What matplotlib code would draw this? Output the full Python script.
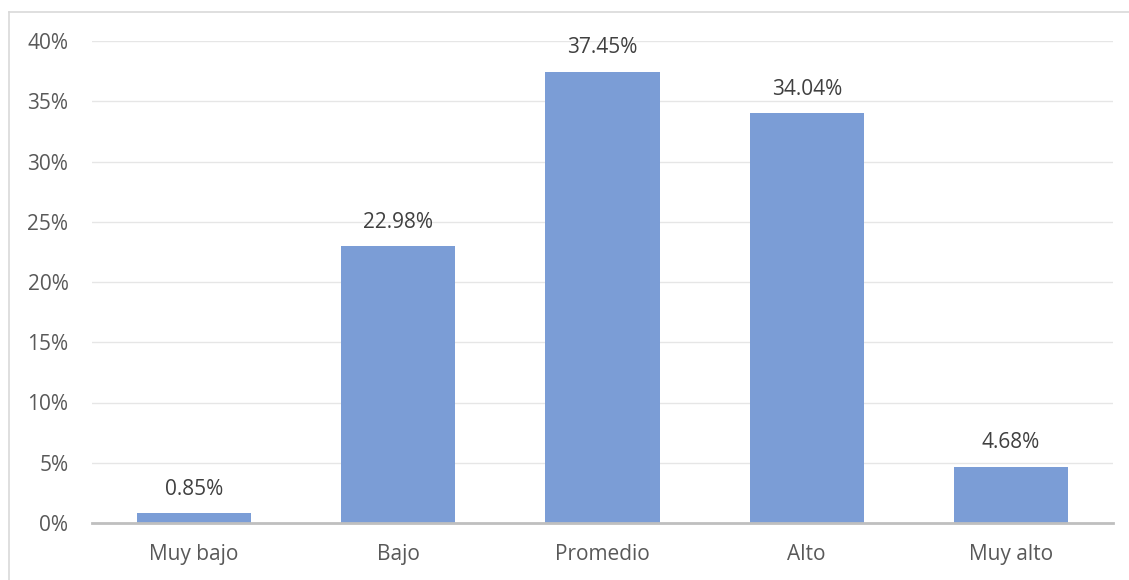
import matplotlib.pyplot as plt
from matplotlib.lines import Line2D

categorias = ['Muy bajo', 'Bajo', 'Promedio', 'Alto', 'Muy alto']
porcentajes = [0.85, 22.98, 37.45, 34.04, 4.68]
yticks = [0, 5, 10, 15, 20, 25, 30, 35, 40]

plt.rcParams['font.family'] = ['Open Sans', 'DejaVu Sans']

fig = plt.figure(figsize=(11.29, 5.80), dpi=100)
ax = fig.add_axes([92/1129, 1 - 523/580, (1113 - 92)/1129, (523 - 41)/580])

# outer border of the chart area, cut at right/bottom like the original
bx, by = 9/1129, 1 - 12/580
fig.lines.append(Line2D([bx, bx], [0, by], transform=fig.transFigure, color='#d9d9d9', lw=1.2))
fig.lines.append(Line2D([bx, 1], [by, by], transform=fig.transFigure, color='#d9d9d9', lw=1.2))

x = range(len(categorias))
ax.bar(x, porcentajes, width=0.56, color='#7b9dd6', zorder=3)

for xi, v in zip(x, porcentajes):
    ax.text(xi, v + 1.1, f'{v:.2f}%', ha='center', va='bottom', fontsize=15, color='#404040')

ax.set_xlim(-0.5, len(categorias) - 0.5)
ax.set_ylim(0, 40)
ax.set_yticks(yticks)
ax.set_yticklabels([f'{t}%' for t in yticks])
ax.set_xticks(list(x))
ax.set_xticklabels(categorias)
ax.tick_params(axis='both', length=0, labelsize=15, labelcolor='#595959')
ax.tick_params(axis='y', pad=17)
ax.tick_params(axis='x', pad=15)

ax.grid(axis='y', color='#e6e6e6', linewidth=1, zorder=0)
for s in ['top', 'right', 'left']:
    ax.spines[s].set_visible(False)
ax.spines['bottom'].set_color('#bfbfbf')
ax.spines['bottom'].set_linewidth(2)
ax.spines['bottom'].set_zorder(4)

fig.savefig('out.png', dpi=100)
